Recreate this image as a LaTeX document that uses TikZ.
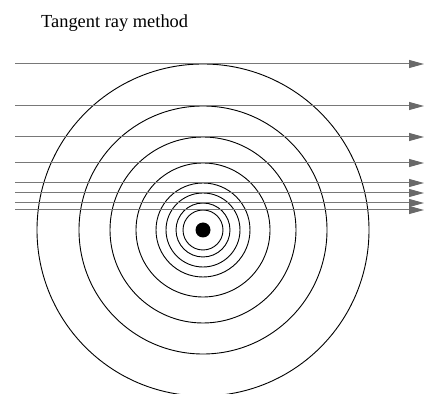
\documentclass[tikz,border=0pt]{standalone}
\usepackage{fontspec}
\setmainfont{Liberation Serif}
\usetikzlibrary{arrows.meta}
\definecolor{raygray}{RGB}{120,120,120}
\definecolor{tipgray}{RGB}{105,105,105}
\tikzset{
  ring/.style={draw=black, line width=0.9pt},
  ray/.style={draw=raygray, line width=1pt, -{Triangle[length=15pt,width=8pt,color=tipgray]}},
  title/.style={font=\fontsize{18.4pt}{22pt}\selectfont, anchor=base west, inner sep=0pt}
}
\begin{document}
\begin{tikzpicture}[x=1pt,y=1pt]
\useasboundingbox (0,0) rectangle (424,394);
\clip (0,0) rectangle (424,394);
\coordinate (c) at (203,164);
\node[title] (t) at (41,366) {Tangent ray method};
\foreach \r [count=\i] in {166,124,93,67,47,37,27,20}{
  \draw[ring] (c) circle[radius=\r];
  \coordinate (s\i) at (15,164+\r);
  \coordinate (e\i) at (424,164+\r);
  \draw[ray] (s\i) -- (e\i);
}
\fill[black] (c) circle[radius=7.5];
\end{tikzpicture}
\end{document}
